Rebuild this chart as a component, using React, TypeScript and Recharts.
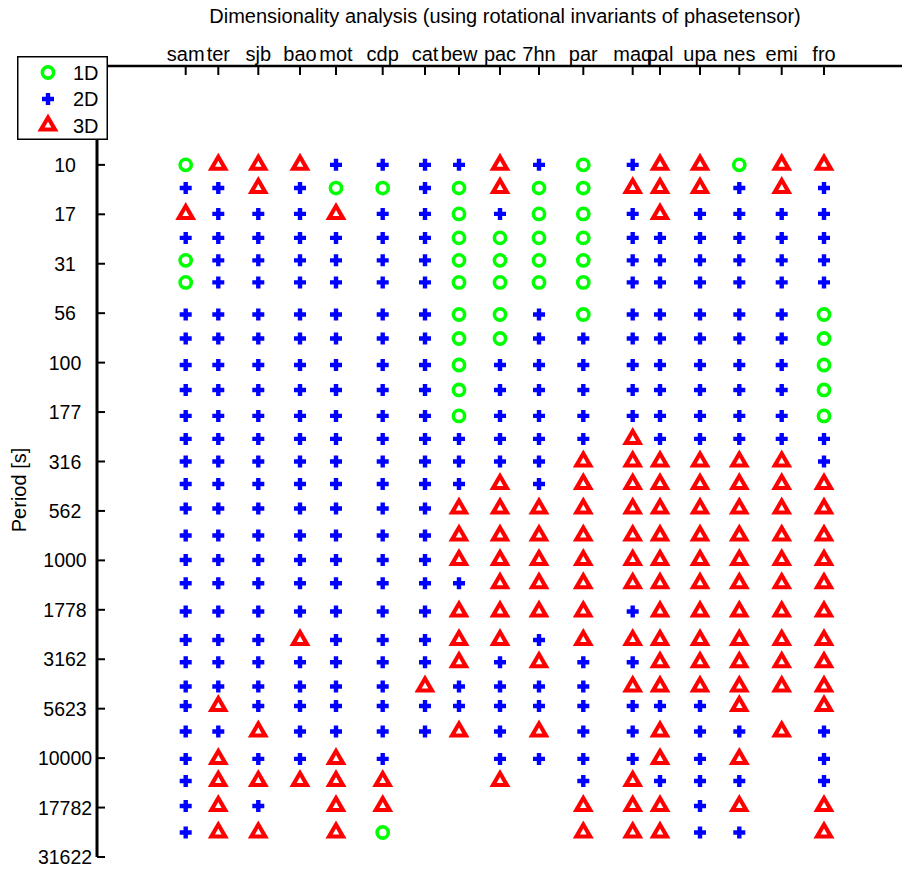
import React from "react";
import { ScatterChart, Scatter, XAxis, YAxis, Legend } from "recharts";

// station names along the profile and their position (km from profile start)
const stations = ["sam", "ter", "sjb", "bao", "mot", "cdp", "cat", "bew", "pac", "7hn", "par", "maq", "pal", "upa", "nes", "emi", "fro"];
const stationKm = [88.7, 121.3, 161.3, 203, 239, 285.7, 328, 362, 403, 442, 486.3, 535.7, 563, 603, 642.3, 684.7, 727];

// periods [s] of the evaluated frequencies
const periods = [10, 13.1, 17.7, 23.4, 30.4, 39.3, 57.1, 75.5, 102.8, 137.5, 186, 243, 316, 411, 547, 748, 995, 1306, 1815, 2529, 3275, 4343, 5447, 7331, 10090, 13060, 17460, 23770];

// dimensionality per period (rows) and station (columns): 1 = 1D, 2 = 2D, 3 = 3D, 0 = no data
const dimRows = [
  [1, 3, 3, 3, 2, 2, 2, 2, 3, 2, 1, 2, 3, 3, 1, 3, 3],
  [2, 2, 3, 2, 1, 1, 2, 1, 3, 1, 1, 3, 3, 3, 2, 3, 2],
  [3, 2, 2, 2, 3, 2, 2, 1, 2, 1, 1, 2, 3, 2, 2, 2, 2],
  [2, 2, 2, 2, 2, 2, 2, 1, 1, 1, 1, 2, 2, 2, 2, 2, 2],
  [1, 2, 2, 2, 2, 2, 2, 1, 1, 1, 1, 2, 2, 2, 2, 2, 2],
  [1, 2, 2, 2, 2, 2, 2, 1, 1, 1, 1, 2, 2, 2, 2, 2, 2],
  [2, 2, 2, 2, 2, 2, 2, 1, 1, 2, 1, 2, 2, 2, 2, 2, 1],
  [2, 2, 2, 2, 2, 2, 2, 1, 1, 2, 2, 2, 2, 2, 2, 2, 1],
  [2, 2, 2, 2, 2, 2, 2, 1, 2, 2, 2, 2, 2, 2, 2, 2, 1],
  [2, 2, 2, 2, 2, 2, 2, 1, 2, 2, 2, 2, 2, 2, 2, 2, 1],
  [2, 2, 2, 2, 2, 2, 2, 1, 2, 2, 2, 2, 2, 2, 2, 2, 1],
  [2, 2, 2, 2, 2, 2, 2, 2, 2, 2, 2, 3, 2, 2, 2, 2, 2],
  [2, 2, 2, 2, 2, 2, 2, 2, 2, 2, 3, 3, 3, 3, 3, 3, 2],
  [2, 2, 2, 2, 2, 2, 2, 2, 3, 2, 3, 3, 3, 3, 3, 3, 3],
  [2, 2, 2, 2, 2, 2, 2, 3, 3, 3, 3, 3, 3, 3, 3, 3, 3],
  [2, 2, 2, 2, 2, 2, 2, 3, 3, 3, 3, 3, 3, 3, 3, 3, 3],
  [2, 2, 2, 2, 2, 2, 2, 3, 3, 3, 3, 3, 3, 3, 3, 3, 3],
  [2, 2, 2, 2, 2, 2, 2, 2, 3, 3, 3, 3, 3, 3, 3, 3, 3],
  [2, 2, 2, 2, 2, 2, 2, 3, 3, 3, 3, 2, 3, 3, 3, 3, 3],
  [2, 2, 2, 3, 2, 2, 2, 3, 3, 2, 3, 3, 3, 3, 3, 3, 3],
  [2, 2, 2, 2, 2, 2, 2, 3, 2, 3, 2, 2, 3, 3, 3, 3, 3],
  [2, 2, 2, 2, 2, 2, 3, 2, 2, 2, 2, 3, 3, 3, 3, 3, 3],
  [2, 3, 2, 2, 2, 2, 2, 2, 2, 2, 2, 2, 2, 2, 3, 0, 3],
  [2, 2, 3, 2, 2, 2, 2, 3, 2, 3, 2, 2, 3, 2, 2, 3, 2],
  [2, 3, 2, 2, 3, 2, 0, 0, 2, 2, 2, 2, 3, 2, 3, 0, 2],
  [2, 3, 3, 3, 3, 3, 0, 0, 3, 0, 2, 3, 2, 2, 2, 0, 2],
  [2, 3, 2, 0, 3, 3, 0, 0, 0, 0, 3, 3, 3, 2, 3, 0, 3],
  [2, 3, 3, 0, 3, 1, 0, 0, 0, 0, 3, 3, 3, 2, 2, 0, 3],
];

const periodTicks = [10, 17.78, 31.62, 56.23, 100, 177.8, 316.2, 562.3, 1000, 1778, 3162, 5623, 10000, 17782, 31622];

const FONT = "Liberation Sans, Arial, Helvetica, sans-serif";

const pointsFor = (code: number) =>
  dimRows.flatMap((row, i) =>
    row
      .map((d, j) => (d === code ? { dist: stationKm[j], period: periods[i] } : null))
      .filter((p) => p !== null)
  );

const data1D = pointsFor(1);
const data2D = pointsFor(2);
const data3D = pointsFor(3);

const Circle1D = ({ cx, cy }: any) => (
  <circle cx={cx} cy={cy} r={5.6} fill="none" stroke="#00ff00" strokeWidth={3.6} />
);

const Plus2D = ({ cx, cy }: any) => (
  <path
    d={`M${cx - 6},${cy - 2.2}h12v4.4h-12z M${cx - 2.2},${cy - 6}h4.4v12h-4.4z`}
    fill="#0000ff"
  />
);

const Tri3D = ({ cx, cy }: any) => (
  <g>
    <path d={`M${cx},${cy - 12}L${cx + 10.5},${cy + 6}L${cx - 10.5},${cy + 6}Z`} fill="#ff0000" />
    <path d={`M${cx},${cy - 4}L${cx + 3.3},${cy + 2}L${cx - 3.3},${cy + 2}Z`} fill="#ffffff" />
  </g>
);

const StationTick = ({ x, y, index }: any) => (
  <g>
    <line x1={x} y1={y} x2={x} y2={y + 9} stroke="#000" strokeWidth={2} />
    <text x={x} y={y - 5} textAnchor="middle" fontSize={20} fontFamily={FONT} fill="#000">
      {stations[index]}
    </text>
  </g>
);

const PeriodTick = ({ x, y, payload }: any) => (
  <g>
    <line x1={x} y1={y} x2={x + 8} y2={y} stroke="#000" strokeWidth={2} />
    <text x={x - 32} y={y} dy="0.36em" textAnchor="middle" fontSize={19.5} fontFamily={FONT} fill="#000">
      {Math.floor(payload.value + 1e-9)}
    </text>
  </g>
);

const LegendBox = () => {
  const items = [
    { label: "1D", Shape: Circle1D },
    { label: "2D", Shape: Plus2D },
    { label: "3D", Shape: Tri3D },
  ];
  return (
    <svg width={91} height={84} style={{ display: "block" }}>
      <rect x={0.75} y={0.75} width={89.5} height={82.5} fill="#fff" stroke="#000" strokeWidth={1.5} />
      {items.map(({ label, Shape }, i) => {
        const cy = 16.5 + i * 26.5;
        return (
          <g key={label}>
            <Shape cx={31} cy={cy} />
            <text x={56} y={cy} dy="0.36em" fontSize={20} fontFamily={FONT} fill="#000">
              {label}
            </text>
          </g>
        );
      })}
    </svg>
  );
};

export default function App() {
  return (
    <div style={{ position: "absolute", left: 0, top: 0, width: 902, height: 870, background: "#fff", fontFamily: FONT }}>
      <div
        style={{
          position: "absolute",
          left: 205,
          top: 6,
          width: 600,
          textAlign: "center",
          fontSize: 20,
          lineHeight: "20px",
          color: "#000",
        }}
      >
        Dimensionality analysis (using rotational invariants of phasetensor)
      </div>
      <ScatterChart width={902} height={870} margin={{ top: 0, right: 0, bottom: 13, left: 0 }}>
        <XAxis
          type="number"
          dataKey="dist"
          orientation="top"
          height={66}
          domain={[0, 805]}
          ticks={stationKm}
          interval={0}
          allowDataOverflow
          tickSize={0}
          tickMargin={0}
          tickLine={false}
          axisLine={{ stroke: "#000", strokeWidth: 2.5 }}
          tick={<StationTick />}
        />
        <YAxis
          type="number"
          dataKey="period"
          scale="log"
          domain={[3.1623, 31623]}
          reversed
          allowDataOverflow
          width={97}
          ticks={periodTicks}
          interval={0}
          tickSize={0}
          tickMargin={0}
          tickLine={false}
          axisLine={{ stroke: "#000", strokeWidth: 3 }}
          tick={<PeriodTick />}
          label={{
            content: () => (
              <text
                x={26}
                y={490}
                transform="rotate(-90 26 490)"
                textAnchor="middle"
                fontSize={20}
                fontFamily={FONT}
                fill="#000"
              >
                Period [s]
              </text>
            ),
          }}
        />
        <Legend
          layout="vertical"
          align="center"
          verticalAlign="middle"
          wrapperStyle={{ left: 17, top: 56, width: 91, height: 84 }}
          content={() => <LegendBox />}
        />
        <Scatter name="1D" data={data1D} shape={Circle1D} isAnimationActive={false} />
        <Scatter name="2D" data={data2D} shape={Plus2D} isAnimationActive={false} />
        <Scatter name="3D" data={data3D} shape={Tri3D} isAnimationActive={false} />
      </ScatterChart>
    </div>
  );
}
